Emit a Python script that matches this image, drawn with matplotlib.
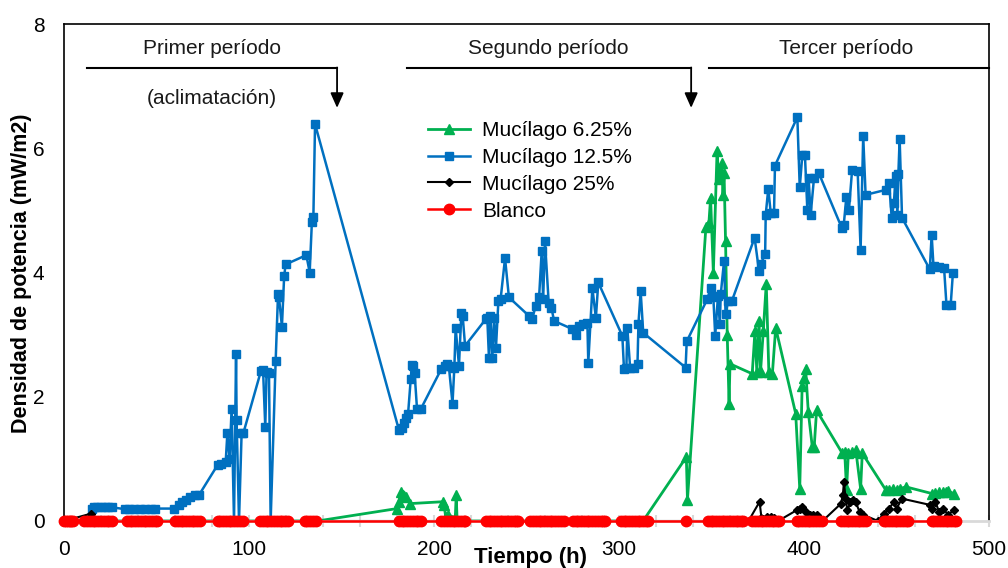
import matplotlib.pyplot as plt
from matplotlib.ticker import MultipleLocator

plt.rcParams['font.family'] = ['Liberation Sans', 'DejaVu Sans']

# Mucilago 6.25 %
t_m625 = [0, 137, 180, 181, 182, 183, 184, 185, 187, 204.6, 205.5, 206.3, 207.5, 211.5, 212, 212.5,
          313, 336.4, 337, 347, 348.6, 349.5, 351, 353, 354, 355.5, 356.2, 356.8, 357.6, 358.5,
          359.5, 360, 372, 373.5, 374.5, 375.7, 376.5, 378, 379.6, 381, 382.9, 384.7,
          395.5, 397.7, 399, 400, 400.9, 402.3, 404.5, 405.5, 406.8,
          420.7, 422, 423, 424, 426, 428, 430.6, 431.5,
          444.2, 446, 448, 450, 452, 455, 469.4, 471, 473, 475, 476.6, 478, 481]
m625 = [0, 0, 0.20, 0.30, 0.47, 0.42, 0.41, 0.38, 0.28, 0.31, 0.25, 0.07, 0.10, 0.05, 0.42, 0.0,
        0, 1.03, 0.34, 4.74, 4.80, 5.20, 4.00, 5.95, 5.50, 5.76, 5.25, 5.60, 4.50, 3.00,
        1.89, 2.53, 2.37, 3.06, 2.40, 3.22, 2.40, 3.06, 3.82, 2.40, 2.37, 3.11,
        1.73, 0.52, 2.18, 2.30, 2.45, 1.76, 1.19, 1.19, 1.78,
        1.09, 1.11, 0.50, 1.10, 1.11, 1.14, 0.52, 1.09,
        0.50, 0.50, 0.52, 0.50, 0.52, 0.55, 0.44, 0.45, 0.46, 0.47, 0.47, 0.48, 0.44]

# Mucilago 12.5 %
t_m125 = [15, 16, 18, 20, 22, 24, 26, 33, 35, 38, 41, 44, 47, 49,
          59.5, 62, 64, 66, 68, 71, 73, 83, 85, 87.4, 88.3, 89.5, 90.6, 91.9, 93, 93.3, 94.6, 96, 97,
          106.5, 107.6, 108.8, 109.5, 110.8, 111.7, 114.4, 115.7, 116.2, 117.8, 119, 119.8,
          131, 132.8, 134, 134.8, 135.7,
          181, 182.5, 184, 185, 186, 187.4, 188, 188.8, 189.5, 190.8, 193,
          204, 206, 207, 208, 210, 211, 211.7, 213.5, 214.8, 215.5, 216.8,
          228, 228.8, 229.7, 230.5, 231.5, 232.5, 233.5, 234.8, 236, 238.4, 240.5,
          251.4, 253, 255, 256.8, 258.2, 259, 260, 262, 263.5, 264.9,
          274.8, 276.7, 278.4, 280.5, 282.9, 283.4, 285.6, 287.5, 288.8,
          301.8, 302.7, 304, 304.5, 306, 308, 310, 310.5, 311.7, 313.1,
          336, 336.6,
          347.7, 349.5, 351, 352, 353.5, 354.5, 355, 356.8, 357.6, 359, 361,
          373.3, 375.7, 376.6, 379, 379.3, 380.7, 382, 383.8, 384.3,
          396.4, 397.7, 399.1, 400.5, 401.8, 402.5, 403.6, 405.4, 408,
          420.4, 421.5, 422.9, 424.3, 426, 429, 430.6, 432, 433.3,
          444.2, 446, 447.4, 448.6, 449.5, 450.5, 451, 451.7, 453,
          468, 469, 470, 473, 475.7, 477, 479.3, 480.5]
m125 = [0.20, 0.22, 0.22, 0.23, 0.23, 0.23, 0.22, 0.19, 0.19, 0.19, 0.19, 0.19, 0.19, 0.20,
        0.20, 0.26, 0.30, 0.34, 0.38, 0.42, 0.42, 0.90, 0.92, 0.95, 1.41, 1.00, 1.81, 0.0, 2.69, 1.63, 0.0, 1.41, 1.42,
        2.42, 2.43, 1.51, 2.40, 2.39, 0.0, 2.57, 3.66, 3.60, 3.13, 3.94, 4.13,
        4.28, 4.00, 4.82, 4.90, 6.39,
        1.47, 1.50, 1.58, 1.65, 1.73, 2.29, 2.51, 2.50, 2.39, 1.81, 1.81,
        2.45, 2.50, 2.53, 2.50, 1.89, 2.47, 3.11, 2.50, 3.35, 3.30, 2.82,
        3.25, 3.27, 2.63, 3.30, 2.63, 3.27, 2.79, 3.54, 3.57, 4.23, 3.60,
        3.30, 3.25, 3.46, 3.60, 4.34, 3.57, 4.50, 3.51, 3.43, 3.22,
        3.09, 3.00, 3.14, 3.17, 3.19, 2.55, 3.75, 3.27, 3.84,
        2.98, 2.45, 2.47, 3.11, 2.47, 2.47, 2.53, 3.17, 3.70, 3.03,
        2.47, 2.89,
        3.57, 3.75, 3.60, 2.98, 3.62, 3.17, 3.65, 4.19, 3.33, 3.54, 3.54,
        4.56, 4.02, 4.14, 4.29, 4.93, 5.35, 4.96, 4.96, 5.72,
        6.50, 5.37, 5.89, 5.89, 5.01, 5.52, 4.93, 5.52, 5.60,
        4.72, 4.77, 5.22, 5.01, 5.65, 5.63, 4.37, 6.20, 5.25,
        5.33, 5.44, 4.88, 5.12, 5.56, 4.93, 5.58, 6.15, 4.88,
        4.05, 4.61, 4.10, 4.09, 4.08, 3.48, 3.48, 4.00]

# Mucilago 25 %
t_m25 = [0, 14.8, 16, 370, 376, 377, 378, 380, 382, 384, 386,
         396.4, 398, 399, 401, 403, 405, 407, 410,
         420, 421, 421.6, 422.5, 423.5, 425, 426.5, 428, 430, 432, 440,
         443, 446, 448.6, 450, 453, 468, 469, 471, 473, 475, 478, 481]
m25 = [0, 0.12, 0, 0, 0.31, 0.05, 0.04, 0.07, 0.07, 0.05, 0.0,
       0.18, 0.20, 0.23, 0.15, 0.10, 0.10, 0.10, 0.0,
       0.28, 0.42, 0.63, 0.35, 0.17, 0.30, 0.34, 0.30, 0.15, 0.10, 0.0,
       0.12, 0.20, 0.31, 0.20, 0.36, 0.26, 0.20, 0.31, 0.15, 0.20, 0.10, 0.18]

# Blanco (sampling times, all values zero)
t_blanco = [0, 1, 2, 3, 4, 5,
            11, 12.5, 14, 15.5, 17, 18.5, 20, 21.5, 23, 24.5, 26,
            34, 35.5, 37, 38.5, 40, 41.5, 43, 44.5, 46, 47.5, 49, 50,
            60, 61.5, 63, 64.5, 66, 67.5, 69, 70.5, 72, 73.5,
            83, 84.5, 86, 87.5, 89, 90.5, 92, 93.5, 95, 96.5,
            106, 107.5, 109, 110.5, 112, 113.5, 115, 116.5, 118, 119.5, 121,
            130, 131.5, 133, 134.5, 136,
            181, 182.5, 184, 185.5, 187, 188.5, 190, 191.5, 193,
            204, 205.5, 207, 208.5, 210, 211.5, 213, 214.5, 216, 217,
            228, 229.5, 231, 232.5, 234, 235.5, 237, 238.5, 240, 241.5, 243, 244.5, 245.5,
            252, 253.5, 255, 256.5, 258, 259.5, 261, 262.5, 264, 265.5, 267, 268.5, 270,
            275, 276.5, 278, 279.5, 281, 282.5, 284, 285.5, 287, 288.5, 290, 291.5, 292.5,
            301, 302.5, 304, 305.5, 307, 308.5, 310, 311.5, 313, 314.5, 315.5,
            336,
            348, 349.5, 351, 352.5, 354, 355.5, 357, 358.5, 360, 361.5, 363, 364.5, 366, 367,
            372, 373.5, 375, 376.5, 378, 379.5, 381, 382.5, 384, 385.5, 386.5,
            396, 397.5, 399, 400.5, 402, 403.5, 405, 406.5, 408, 409.5,
            420, 421.5, 423, 424.5, 426, 427.5, 429, 430.5, 432, 433.5,
            443, 444.5, 446, 447.5, 449, 450.5, 452, 453.5, 455, 456,
            469, 470.5, 472, 473.5, 475, 476.5, 478, 479.5, 481, 482]
blanco = [0.0] * len(t_blanco)

# period annotations: (label, x centre, line start, line end, arrow?)
periods = [('Primer período', 80, 12.4, 147.6, True),
           ('Segundo período', 262, 185.4, 339, True),
           ('Tercer período', 423, 348.6, 500, False)]

fig = plt.figure(figsize=(10.08, 5.68), dpi=100)
ax = fig.add_axes([64 / 1008, 1 - 521 / 568, 925 / 1008, 497 / 568])

ax.plot(t_m625, m625, color='#00b050', marker='^', markersize=6.5, lw=2, label='Mucílago 6.25%')
ax.plot(t_m125, m125, color='#0070c0', marker='s', markersize=6, lw=1.8, label='Mucílago 12.5%')
ax.plot(t_m25, m25, color='black', marker='D', markersize=4.5, lw=1.5, label='Mucílago 25%')
ax.plot(t_blanco, blanco, color='#ff0000', marker='o', markersize=7.5, lw=1.8, label='Blanco',
        clip_on=False, zorder=5)

ax.set_xlim(0, 500)
ax.set_ylim(0, 8)
ax.xaxis.set_major_locator(MultipleLocator(100))
ax.xaxis.set_minor_locator(MultipleLocator(20))
ax.yaxis.set_major_locator(MultipleLocator(2))
ax.tick_params(axis='x', which='both', direction='inout', color='#d9d9d9', width=1.5,
               labelsize=15, pad=9)
ax.tick_params(axis='x', which='major', length=9)
ax.tick_params(axis='x', which='minor', length=9)
ax.tick_params(axis='y', length=0, labelsize=15, pad=14)
for side in ['left', 'top', 'right']:
    ax.spines[side].set_color('black')
    ax.spines[side].set_linewidth(1.2)
ax.spines['bottom'].set_color('#d9d9d9')
ax.spines['bottom'].set_linewidth(2)

for name, xc, x0, x1, arrow in periods:
    ax.text(xc, 7.6, name, ha='center', va='center', fontsize=15, color='#1a1a1a')
    ax.plot([x0, x1], [7.29, 7.29], color='black', lw=1.5, clip_on=False)
    if arrow:
        ax.annotate('', xy=(x1, 6.65), xytext=(x1, 7.3),
                    arrowprops=dict(arrowstyle='-|>,head_width=0.4,head_length=0.9',
                                    color='black', lw=1.3, shrinkA=0, shrinkB=0))
ax.text(80, 6.8, '(aclimatación)', ha='center', va='center', fontsize=15, color='#1a1a1a')

ax.legend(loc='upper left', bbox_to_anchor=(0.3823, 0.826), frameon=False, fontsize=15,
          handlelength=2.0, handletextpad=0.58, labelspacing=0.38, borderpad=0)

fig.text(22 / 1008, 1 - 273 / 568, 'Densidad de potencia (mW/m2)', rotation=90,
         ha='center', va='center', fontsize=15.5, fontweight='bold')
fig.text(531 / 1008, 1 - 557 / 568, 'Tiempo (h)', ha='center', va='center',
         fontsize=16, fontweight='bold')

fig.savefig('out.png', dpi=100)
